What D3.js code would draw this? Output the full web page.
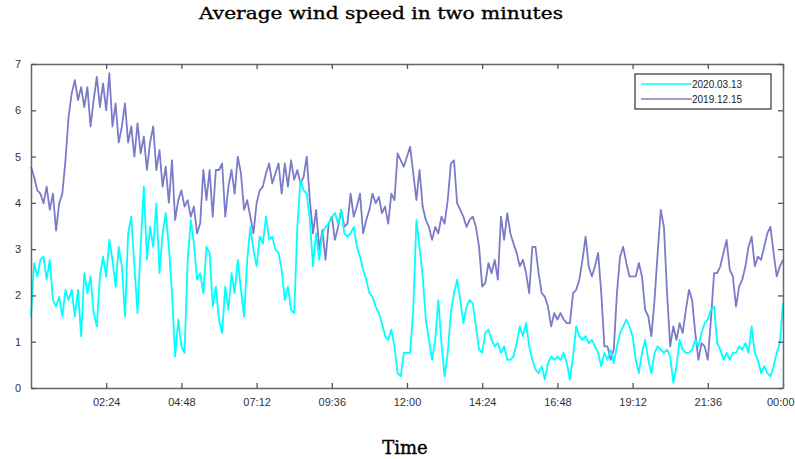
<!DOCTYPE html>
<html>
<head>
<meta charset="utf-8">
<script src="https://cdnjs.cloudflare.com/ajax/libs/d3/7.8.5/d3.min.js"></script>
<style>
  body { margin: 0; background: #fff; }
  svg { display: block; }
</style>
</head>
<body>
<div id="chart"></div>
<script>
var width = 795,
    height = 459,
    margin = {top: 64, right: 12, bottom: 71, left: 31};

// wind speed, one reading every 6 minutes from 00:00 to 24:00
var step = 0.1;
var seriesNames = ["2020.03.13", "2019.12.15"];
var seriesColors = ["#00ffff", "#7b7bc9"];

var wind20200313 = [
  1.54,2.7,2.41,2.77,2.84,2.34,2.77,1.9,1.76,1.97,
  1.54,2.12,1.9,2.12,1.54,2.12,1.12,2.48,2.05,2.41,
  1.62,1.33,2.41,2.84,2.41,3.2,2.77,2.19,3.05,2.63,
  1.54,3.34,3.7,2.63,1.62,3.05,4.35,2.77,3.48,3.05,
  3.99,2.48,3.34,3.78,3.05,2.05,0.68,1.48,0.9,0.76,
  2.77,3.63,3.12,2.34,2.48,2.05,3.05,2.92,1.76,2.19,
  1.47,1.19,2.19,1.69,2.48,2.05,2.77,2.12,1.54,2.77,
  3.48,2.99,2.63,3.27,3.12,3.7,3.2,3.27,2.99,2.92,
  2.56,1.9,2.19,1.69,1.62,3.48,4.49,4.27,4.2,3.63,
  2.63,3.34,2.77,3.34,3.48,3.55,3.7,3.78,3.55,3.85,
  3.34,3.27,3.34,3.48,3.05,2.84,2.56,2.34,2.05,1.97,
  1.76,1.62,1.4,1.12,1.04,1.26,0.9,0.32,0.25,0.76,
  0.76,0.76,1.69,3.63,3.05,2.41,1.48,1.04,0.61,1.04,
  1.9,0.97,0.25,0.76,1.62,2.05,2.34,1.9,1.4,1.76,
  1.9,1.83,1.33,0.83,0.76,1.19,1.26,1.04,0.9,0.97,
  0.76,0.9,0.61,0.61,0.68,0.97,1.33,1.12,1.4,0.9,
  0.61,0.4,0.32,0.47,0.18,0.54,0.68,0.61,0.68,0.61,
  0.76,0.54,0.18,0.68,1.33,1.12,1.04,1.12,0.97,1.04,
  0.9,0.76,0.47,0.76,0.61,0.83,0.54,0.9,1.19,1.33,
  1.48,1.33,1.12,0.61,0.32,0.76,1.04,0.61,0.32,0.76,
  0.9,0.83,0.76,0.83,0.68,0.11,0.47,1.04,0.83,0.76,
  0.76,0.83,1.04,0.9,1.19,1.4,1.48,1.69,1.76,0.97,
  0.83,0.61,0.76,0.61,0.76,0.76,0.9,0.83,0.97,0.76,
  1.33,0.76,0.61,0.32,0.47,0.32,0.25,0.47,0.76,0.97,
  1.83
];

var wind20191215 = [
  4.78,4.56,4.27,4.2,3.99,4.35,3.85,4.2,3.4,3.99,
  4.2,4.92,5.86,6.37,6.65,6.22,6.5,6.07,6.5,5.65,
  6.22,6.72,6.07,6.58,6.0,6.8,5.65,6.15,5.3,5.65,
  6.15,5.3,5.65,5.0,5.72,5.07,5.43,4.71,5.3,5.65,
  4.71,5.14,4.35,4.78,4.0,4.92,3.63,4.06,4.27,3.92,
  4.06,3.7,3.92,3.34,3.56,4.71,4.06,4.71,3.7,4.71,
  4.71,4.85,3.7,4.35,4.71,4.2,5.0,4.64,3.85,4.06,
  3.7,3.34,3.99,4.27,4.35,4.64,4.85,4.42,4.64,4.85,
  4.2,4.85,4.35,4.92,4.5,4.71,4.42,4.56,5.0,4.06,
  3.34,3.85,2.99,3.41,2.77,3.55,3.7,3.2,3.48,3.85,
  3.48,3.55,4.2,3.7,3.92,4.2,3.34,3.63,3.85,4.2,
  3.99,4.13,3.78,3.92,3.55,4.2,4.06,5.07,4.92,4.78,
  5.0,5.21,4.64,4.06,4.71,3.92,3.63,3.48,3.2,3.48,
  3.34,3.7,3.55,4.06,4.85,4.92,3.99,3.85,3.7,3.48,
  3.63,3.7,3.48,3.05,2.19,2.27,2.7,2.48,2.77,2.34,
  3.7,3.2,3.78,3.34,3.12,2.92,2.63,2.77,2.48,2.05,
  3.05,3.05,2.48,2.05,1.97,1.76,1.33,1.62,1.48,1.62,
  1.48,1.4,1.4,2.05,2.12,2.34,2.77,3.27,2.63,2.41,
  2.63,2.92,2.05,0.9,0.9,0.61,0.83,2.05,2.84,3.05,
  2.7,2.41,2.41,2.41,2.7,2.41,1.69,1.55,1.12,1.9,
  2.92,3.85,3.48,2.05,0.9,1.33,1.04,1.4,1.19,1.69,
  2.12,1.9,1.19,0.61,0.97,0.9,0.61,1.48,2.48,2.48,
  2.63,2.92,3.2,2.56,2.41,1.76,2.19,2.34,2.63,3.05,
  3.27,2.63,2.84,2.77,3.05,3.34,3.48,2.92,2.41,2.63,
  2.77
];

var xTicks = [2.4, 4.8, 7.2, 9.6, 12, 14.4, 16.8, 19.2, 21.6, 24];
var xTickLabels = ["02:24", "04:48", "07:12", "09:36", "12:00", "14:24", "16:48", "19:12", "21:36", "00:00"];
var yTicks = [0, 1, 2, 3, 4, 5, 6, 7];

var innerW = width - margin.left - margin.right,
    innerH = height - margin.top - margin.bottom;

var svg = d3.select("#chart").append("svg")
    .attr("width", width)
    .attr("height", height);

var g = svg.append("g")
    .attr("transform", "translate(" + margin.left + "," + margin.top + ")");

var x = d3.scaleLinear().domain([0, 24]).range([0, innerW]);
var y = d3.scaleLinear().domain([0, 7]).range([innerH, 0]);

var line = d3.line()
    .x(function(d, i) { return x(i * step); })
    .y(function(d) { return y(d); });

// purple first, cyan drawn over it
g.append("path")
    .datum(wind20191215)
    .attr("d", line)
    .attr("fill", "none")
    .attr("stroke", seriesColors[1])
    .attr("stroke-width", 1.8)
    .attr("stroke-linejoin", "round");

g.append("path")
    .datum(wind20200313)
    .attr("d", line)
    .attr("fill", "none")
    .attr("stroke", seriesColors[0])
    .attr("stroke-width", 1.8)
    .attr("stroke-linejoin", "round");

// axes: ticks pointing inward on all four sides
var tickFmt = function(d) { return xTickLabels[xTicks.indexOf(d)]; };

var xBottom = g.append("g")
    .attr("transform", "translate(0," + innerH + ")")
    .call(d3.axisBottom(x).tickValues(xTicks).tickFormat(tickFmt).tickSizeInner(-5).tickSizeOuter(0).tickPadding(10));
var xTop = g.append("g")
    .call(d3.axisTop(x).tickValues(xTicks).tickFormat("").tickSizeInner(-5).tickSizeOuter(0));
var yLeft = g.append("g")
    .call(d3.axisLeft(y).tickValues(yTicks).tickFormat(d3.format("d")).tickSizeInner(-5).tickSizeOuter(0).tickPadding(10));
var yRight = g.append("g")
    .attr("transform", "translate(" + innerW + ",0)")
    .call(d3.axisRight(y).tickValues(yTicks).tickFormat("").tickSizeInner(-5).tickSizeOuter(0));

[xBottom, xTop, yLeft, yRight].forEach(function(ax) {
  ax.select(".domain").attr("stroke", "#666").attr("stroke-width", 1.5);
  ax.selectAll(".tick line").attr("stroke", "#555").attr("stroke-width", 1.3);
  ax.selectAll(".tick text")
    .attr("fill", "#333")
    .style("font-family", "'Liberation Sans', Arial, sans-serif")
    .style("font-size", "11px");
});

// last label sits against the right edge of the window
xBottom.selectAll(".tick text")
    .filter(function(d) { return d === 24; })
    .attr("text-anchor", "end")
    .attr("dx", 11);

// legend
var legend = svg.append("g").attr("transform", "translate(635,74)");
legend.append("rect")
    .attr("width", 136)
    .attr("height", 35)
    .attr("fill", "#fff")
    .attr("stroke", "#333")
    .attr("stroke-width", 1.2);

seriesNames.forEach(function(name, i) {
  var ly = 10 + i * 15;
  legend.append("line")
      .attr("x1", 6).attr("x2", 57)
      .attr("y1", ly).attr("y2", ly)
      .attr("stroke", seriesColors[i])
      .attr("stroke-width", 1.6);
  legend.append("text")
      .attr("x", 57)
      .attr("y", ly + 3.5)
      .attr("fill", "#222")
      .style("font-family", "'Liberation Sans', Arial, sans-serif")
      .style("font-size", "10px")
      .text(name);
});

// title and axis label
svg.append("text")
    .attr("x", 381)
    .attr("y", 19)
    .attr("text-anchor", "middle")
    .attr("fill", "#000")
    .attr("stroke", "#000")
    .attr("stroke-width", 0.35)
    .style("font-family", "'DejaVu Serif', serif")
    .style("font-size", "17px")
    .attr("textLength", 364)
    .attr("lengthAdjust", "spacingAndGlyphs")
    .text("Average wind speed in two minutes");

svg.append("text")
    .attr("x", 405)
    .attr("y", 454)
    .attr("text-anchor", "middle")
    .attr("fill", "#000")
    .attr("stroke", "#000")
    .attr("stroke-width", 0.35)
    .style("font-family", "'DejaVu Serif', serif")
    .style("font-size", "18px")
    .text("Time");
</script>
</body>
</html>
